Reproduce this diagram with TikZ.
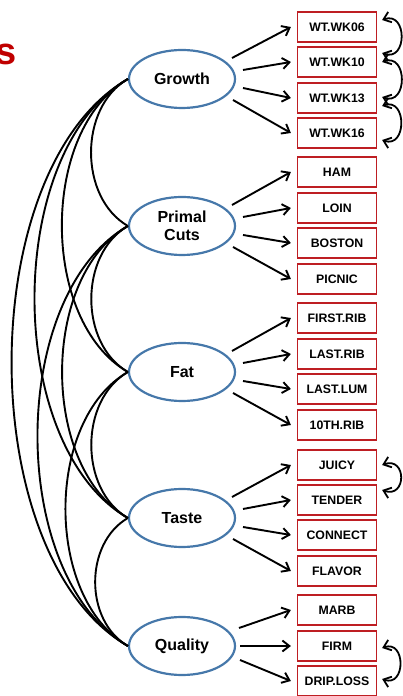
\documentclass[tikz,border=0pt]{standalone}
\usepackage{fontspec}
\setmainfont{Liberation Sans}
\usetikzlibrary{arrows.meta,calc,shapes.geometric}
\definecolor{ellblue}{RGB}{70,120,170}
\definecolor{boxred}{RGB}{190,30,35}
\definecolor{titlered}{RGB}{192,0,0}
\begin{document}
\begin{tikzpicture}[x=1pt,y=1pt,
  latent/.style={ellipse, draw=ellblue, line width=2.2pt, minimum width=106pt, minimum height=58pt, inner sep=0pt, font=\fontsize{16}{18.5}\selectfont\bfseries, align=center},
  manifest/.style={rectangle, draw=boxred, line width=1.2pt, minimum width=79pt, minimum height=30pt, inner sep=0pt, font=\fontsize{12.3}{14}\selectfont\bfseries},
  load/.style={line width=1.9pt, -{Straight Barb[length=7pt,width=11pt]}},
  cov/.style={line width=1.9pt},
  rescov/.style={line width=1.8pt, {Straight Barb[length=7pt,width=11pt]}-{Straight Barb[length=7pt,width=11pt]}},
]
\useasboundingbox (0,0) rectangle (402,696);
\node[font=\fontsize{38}{40}\selectfont\bfseries, text=titlered, inner sep=0pt, anchor=base east] (title) at (16.5,631) {s};
% latent variables
\node[latent] (g) at (182,617) {Growth};
\node[latent] (p) at (182,470) {Primal\\Cuts};
\node[latent] (f) at (182,324) {Fat};
\node[latent] (t) at (182,178) {Taste};
\node[latent] (q) at (182,50) {Quality};
% manifest variables
\node[manifest] (w06) at (337,669) {WT.WK06};
\node[manifest] (w10) at (337,634) {WT.WK10};
\node[manifest] (w13) at (337,598) {WT.WK13};
\node[manifest] (w16) at (337,563) {WT.WK16};
\node[manifest] (ham) at (337,524) {HAM};
\node[manifest] (loin) at (337,488) {LOIN};
\node[manifest] (bos) at (337,453) {BOSTON};
\node[manifest] (pic) at (337,417) {PICNIC};
\node[manifest] (fr) at (337,378) {FIRST.RIB};
\node[manifest] (lr) at (337,342) {LAST.RIB};
\node[manifest] (ll) at (337,307) {LAST.LUM};
\node[manifest] (tr) at (337,271) {10TH.RIB};
\node[manifest] (ju) at (337,231) {JUICY};
\node[manifest] (te) at (337,196) {TENDER};
\node[manifest] (co) at (337,161) {CONNECT};
\node[manifest] (fl) at (337,125) {FLAVOR};
\node[manifest] (ma) at (337,86) {MARB};
\node[manifest] (fi) at (337,50) {FIRM};
\node[manifest] (dl) at (337,15) {DRIP.LOSS};
% loadings
\foreach \L/\a/\b/\c/\d in {g/w06/w10/w13/w16, p/ham/loin/bos/pic, f/fr/lr/ll/tr, t/ju/te/co/fl}{
  \draw[load] ($(\L.center)+(50,21)$) -- ($(\a.west)+(-6,0)$);
  \draw[load] ($(\L.center)+(61,9)$) -- ($(\b.west)+(-6,0)$);
  \draw[load] ($(\L.center)+(61,-9)$) -- ($(\c.west)+(-6,0)$);
  \draw[load] ($(\L.center)+(51,-21)$) -- ($(\d.west)+(-6,0)$);
}
\draw[load] ($(q.center)+(57,18)$) -- ($(ma.west)+(-6,0)$);
\draw[load] ($(q.center)+(58,0)$) -- ($(fi.west)+(-6,0)$);
\draw[load] ($(q.center)+(58,-14)$) -- ($(dl.west)+(-6,0)$);
% factor covariances
\draw[cov] (g.west) to[out=210,in=150,looseness=0.99] (p.west);
\draw[cov] (g.west) to[out=210,in=150,looseness=0.89] (f.west);
\draw[cov] (g.west) to[out=210,in=150,looseness=0.84] (t.west);
\draw[cov] (g.west) to[out=210,in=150,looseness=0.81] (q.west);
\draw[cov] (p.west) to[out=210,in=150,looseness=0.99] (f.west);
\draw[cov] (p.west) to[out=210,in=150,looseness=0.89] (t.west);
\draw[cov] (p.west) to[out=210,in=150,looseness=0.85] (q.west);
\draw[cov] (f.west) to[out=210,in=150,looseness=0.99] (t.west);
\draw[cov] (f.west) to[out=210,in=150,looseness=0.90] (q.west);
\draw[cov] (t.west) to[out=210,in=150,looseness=1.01] (q.west);
% residual covariances
\draw[rescov] ($(w06.east)+(5,7)$) to[out=20,in=-20,looseness=2.1] ($(w10.east)+(5,9)$);
\draw[rescov] ($(w10.east)+(5,0)$) to[out=20,in=-20,looseness=2] ($(w13.east)+(5,1)$);
\draw[rescov] ($(w13.east)+(5,-8)$) to[out=20,in=-20,looseness=2] ($(w16.east)+(5,-7)$);
\draw[rescov] ($(ju.east)+(5,0)$) to[out=20,in=-20,looseness=2.7] ($(te.east)+(5,10)$);
\draw[rescov] ($(fi.east)+(5,-2)$) to[out=20,in=-20,looseness=2.1] ($(dl.east)+(5,2)$);
\end{tikzpicture}
\end{document}
